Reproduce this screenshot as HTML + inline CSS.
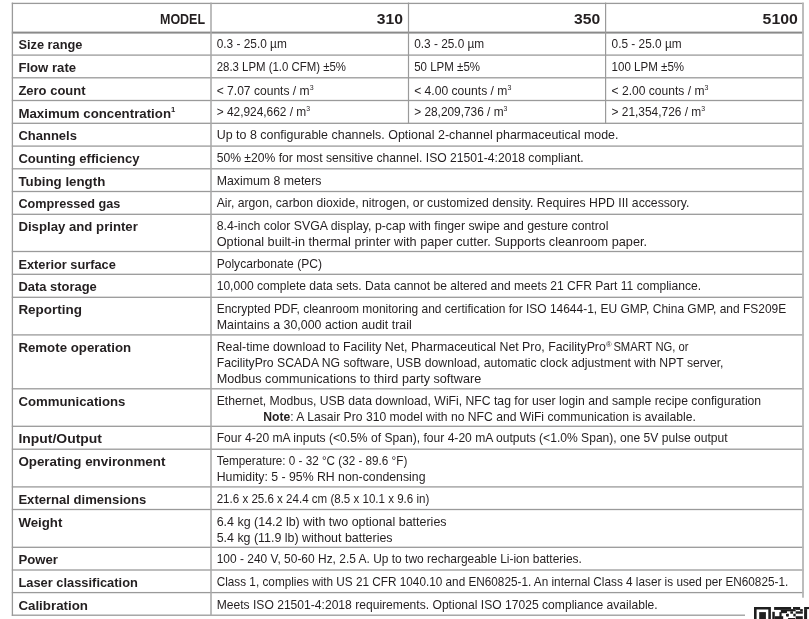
<!DOCTYPE html>
<html><head><meta charset="utf-8"><title>Lasair Pro specifications</title>
<style>
html,body{margin:0;padding:0;background:#fff;}
body{width:809px;height:619px;position:relative;overflow:hidden;}
svg{position:absolute;left:0;top:0;display:block;}
text{font-family:"Liberation Sans",Arial,sans-serif;fill:#231f20;white-space:pre;}
.h{font-weight:700;font-size:14.5px;}
.l{font-weight:700;font-size:13.5px;}
.v{font-weight:400;font-size:12.2px;}
.sup{font-size:58%;}
.reg{font-size:72%;}
.regt{font-size:7.6px;}
</style></head><body>
<svg width="809" height="619" viewBox="0 0 809 619">
<g>
<rect x="11.8" y="2.75" width="791.80" height="1.3" fill="#9a9a9a"/>
<rect x="11.8" y="31.60" width="791.80" height="2.0" fill="#8a8a8a"/>
<rect x="11.8" y="54.45" width="791.80" height="1.3" fill="#9a9a9a"/>
<rect x="11.8" y="77.15" width="791.80" height="1.3" fill="#9a9a9a"/>
<rect x="11.8" y="99.85" width="791.80" height="1.3" fill="#9a9a9a"/>
<rect x="11.8" y="122.65" width="791.80" height="1.3" fill="#9a9a9a"/>
<rect x="11.8" y="145.45" width="791.80" height="1.3" fill="#9a9a9a"/>
<rect x="11.8" y="168.15" width="791.80" height="1.3" fill="#9a9a9a"/>
<rect x="11.8" y="190.85" width="791.80" height="1.3" fill="#9a9a9a"/>
<rect x="11.8" y="213.65" width="791.80" height="1.3" fill="#9a9a9a"/>
<rect x="11.8" y="250.85" width="791.80" height="1.3" fill="#9a9a9a"/>
<rect x="11.8" y="273.65" width="791.80" height="1.3" fill="#9a9a9a"/>
<rect x="11.8" y="296.65" width="791.80" height="1.3" fill="#9a9a9a"/>
<rect x="11.8" y="334.25" width="791.80" height="1.3" fill="#9a9a9a"/>
<rect x="11.8" y="388.15" width="791.80" height="1.3" fill="#9a9a9a"/>
<rect x="11.8" y="425.65" width="791.80" height="1.3" fill="#9a9a9a"/>
<rect x="11.8" y="448.55" width="791.80" height="1.3" fill="#9a9a9a"/>
<rect x="11.8" y="486.25" width="791.80" height="1.3" fill="#9a9a9a"/>
<rect x="11.8" y="508.85" width="791.80" height="1.3" fill="#9a9a9a"/>
<rect x="11.8" y="546.65" width="791.80" height="1.3" fill="#9a9a9a"/>
<rect x="11.8" y="569.35" width="791.80" height="1.3" fill="#9a9a9a"/>
<rect x="11.8" y="591.95" width="791.80" height="1.3" fill="#9a9a9a"/>
<rect x="11.8" y="614.55" width="733.20" height="1.3" fill="#9a9a9a"/>
<rect x="11.75" y="2.6" width="1.3" height="613.40" fill="#9a9a9a"/>
<rect x="210.25" y="2.6" width="1.5" height="613.40" fill="#a8a8a8"/>
<rect x="407.90" y="2.6" width="1.2" height="121.10" fill="#9a9a9a"/>
<rect x="605.00" y="2.6" width="1.2" height="121.10" fill="#9a9a9a"/>
<rect x="802.10" y="2.6" width="1.8" height="595.10" fill="#b5b5b5"/>
</g>
<g fill="#1e1e1e">
<path fill-rule="evenodd" d="M754 607H770.9V619H754Z M756.6 609.6H768.3V619H756.6Z"/>
<rect x="759.2" y="612.1" width="6.7" height="7"/>
<rect x="774.1" y="607.0" width="12.90" height="2.90"/>
<rect x="780.8" y="609.9" width="6.20" height="3.30"/>
<rect x="772.3" y="611.8" width="2.50" height="7.20"/>
<rect x="779.4" y="612.1" width="2.20" height="6.90"/>
<rect x="774.8" y="616.2" width="8.40" height="2.80"/>
<rect x="786.0" y="614.0" width="2.70" height="2.40"/>
<rect x="787.0" y="607.0" width="4.10" height="2.10"/>
<rect x="793.0" y="607.0" width="7.10" height="2.10"/>
<rect x="787.0" y="609.1" width="8.70" height="2.20"/>
<rect x="800.1" y="609.1" width="2.70" height="2.20"/>
<rect x="795.7" y="609.1" width="4.40" height="0.90"/>
<rect x="790.3" y="611.3" width="2.70" height="2.40"/>
<rect x="795.7" y="611.3" width="7.10" height="2.40"/>
<rect x="787.0" y="613.7" width="1.60" height="2.70"/>
<rect x="793.3" y="613.7" width="2.40" height="2.70"/>
<rect x="788.1" y="618.0" width="7.10" height="1.00"/>
<rect x="795.7" y="616.2" width="7.10" height="2.80"/>
<rect x="804.1" y="607.0" width="4.90" height="2.10"/>
<rect x="804.1" y="609.1" width="3.00" height="9.90"/>
</g>
<text class="h" x="159.99" y="23.60" textLength="45.05" lengthAdjust="spacingAndGlyphs">MODEL</text>
<text class="h" x="376.69" y="23.80" textLength="26.21" lengthAdjust="spacingAndGlyphs">310</text>
<text class="h" x="574.05" y="23.80" textLength="26.17" lengthAdjust="spacingAndGlyphs">350</text>
<text class="h" x="762.57" y="23.60" textLength="35.29" lengthAdjust="spacingAndGlyphs">5100</text>
<text class="l" x="18.40" y="48.80" textLength="64.02" lengthAdjust="spacingAndGlyphs">Size range</text>
<text class="v" x="216.70" y="47.80" textLength="70.15" lengthAdjust="spacingAndGlyphs">0.3 - 25.0 µm</text>
<text class="v" x="414.20" y="47.80" textLength="70.03" lengthAdjust="spacingAndGlyphs">0.3 - 25.0 µm</text>
<text class="v" x="611.60" y="47.80" textLength="69.97" lengthAdjust="spacingAndGlyphs">0.5 - 25.0 µm</text>
<text class="l" x="18.40" y="71.80" textLength="57.69" lengthAdjust="spacingAndGlyphs">Flow rate</text>
<text class="v" x="216.70" y="70.80" textLength="129.33" lengthAdjust="spacingAndGlyphs">28.3 LPM (1.0 CFM) ±5%</text>
<text class="v" x="414.20" y="70.80" textLength="65.84" lengthAdjust="spacingAndGlyphs">50 LPM ±5%</text>
<text class="v" x="611.60" y="70.80" textLength="72.51" lengthAdjust="spacingAndGlyphs">100 LPM ±5%</text>
<text class="l" x="18.40" y="94.60" textLength="67.14" lengthAdjust="spacingAndGlyphs">Zero count</text>
<text class="v" x="216.70" y="94.60" textLength="96.84" lengthAdjust="spacingAndGlyphs">&lt; 7.07 counts / m<tspan class="sup" dy="-5.0">3</tspan></text>
<text class="v" x="414.20" y="94.60" textLength="97.13" lengthAdjust="spacingAndGlyphs">&lt; 4.00 counts / m<tspan class="sup" dy="-5.0">3</tspan></text>
<text class="v" x="611.60" y="94.60" textLength="96.79" lengthAdjust="spacingAndGlyphs">&lt; 2.00 counts / m<tspan class="sup" dy="-5.0">3</tspan></text>
<text class="l" x="18.40" y="117.80" textLength="156.89" lengthAdjust="spacingAndGlyphs">Maximum concentration<tspan class="sup" dy="-5.6">1</tspan></text>
<text class="v" x="216.70" y="116.20" textLength="93.43" lengthAdjust="spacingAndGlyphs">&gt; 42,924,662 / m<tspan class="sup" dy="-5.0">3</tspan></text>
<text class="v" x="414.20" y="116.20" textLength="93.22" lengthAdjust="spacingAndGlyphs">&gt; 28,209,736 / m<tspan class="sup" dy="-5.0">3</tspan></text>
<text class="v" x="611.60" y="116.20" textLength="93.43" lengthAdjust="spacingAndGlyphs">&gt; 21,354,726 / m<tspan class="sup" dy="-5.0">3</tspan></text>
<text class="l" x="18.40" y="139.60" textLength="58.50" lengthAdjust="spacingAndGlyphs">Channels</text>
<text class="v" x="216.70" y="138.60" textLength="401.81" lengthAdjust="spacingAndGlyphs">Up to 8 configurable channels. Optional 2-channel pharmaceutical mode.</text>
<text class="l" x="18.40" y="162.60" textLength="121.15" lengthAdjust="spacingAndGlyphs">Counting efficiency</text>
<text class="v" x="216.70" y="161.60" textLength="367.02" lengthAdjust="spacingAndGlyphs">50% ±20% for most sensitive channel. ISO 21501-4:2018 compliant.</text>
<text class="l" x="18.40" y="185.80" textLength="86.91" lengthAdjust="spacingAndGlyphs">Tubing length</text>
<text class="v" x="216.70" y="184.80" textLength="104.80" lengthAdjust="spacingAndGlyphs">Maximum 8 meters</text>
<text class="l" x="18.40" y="207.80" textLength="102.00" lengthAdjust="spacingAndGlyphs">Compressed gas</text>
<text class="v" x="216.70" y="206.80" textLength="472.63" lengthAdjust="spacingAndGlyphs">Air, argon, carbon dioxide, nitrogen, or customized density. Requires HPD III accessory.</text>
<text class="l" x="18.40" y="230.80" textLength="119.45" lengthAdjust="spacingAndGlyphs">Display and printer</text>
<text class="v" x="216.70" y="229.80" textLength="391.75" lengthAdjust="spacingAndGlyphs">8.4-inch color SVGA display, p-cap with finger swipe and gesture control</text>
<text class="v" x="216.70" y="245.80" textLength="430.35" lengthAdjust="spacingAndGlyphs">Optional built-in thermal printer with paper cutter. Supports cleanroom paper.</text>
<text class="l" x="18.40" y="268.80" textLength="97.48" lengthAdjust="spacingAndGlyphs">Exterior surface</text>
<text class="v" x="216.70" y="267.80" textLength="105.28" lengthAdjust="spacingAndGlyphs">Polycarbonate (PC)</text>
<text class="l" x="18.40" y="290.80" textLength="78.43" lengthAdjust="spacingAndGlyphs">Data storage</text>
<text class="v" x="216.70" y="289.80" textLength="484.39" lengthAdjust="spacingAndGlyphs">10,000 complete data sets. Data cannot be altered and meets 21 CFR Part 11 compliance.</text>
<text class="l" x="18.40" y="314.00" textLength="63.54" lengthAdjust="spacingAndGlyphs">Reporting</text>
<text class="v" x="216.70" y="313.00" textLength="569.56" lengthAdjust="spacingAndGlyphs">Encrypted PDF, cleanroom monitoring and certification for ISO 14644-1, EU GMP, China GMP, and FS209E</text>
<text class="v" x="216.70" y="329.00" textLength="195.01" lengthAdjust="spacingAndGlyphs">Maintains a 30,000 action audit trail</text>
<text class="l" x="18.40" y="351.80" textLength="112.69" lengthAdjust="spacingAndGlyphs">Remote operation</text>
<text class="v" x="216.70" y="350.80" textLength="389.17" lengthAdjust="spacingAndGlyphs">Real-time download to Facility Net, Pharmaceutical Net Pro, FacilityPro</text>
<text class="v regt" x="605.90" y="347.40">®</text>
<text class="v" x="613.39" y="350.80" textLength="75.09" lengthAdjust="spacingAndGlyphs">SMART NG, or</text>
<text class="v" x="216.70" y="366.80" textLength="506.82" lengthAdjust="spacingAndGlyphs">FacilityPro SCADA NG software, USB download, automatic clock adjustment with NPT server,</text>
<text class="v" x="216.70" y="382.80" textLength="264.49" lengthAdjust="spacingAndGlyphs">Modbus communications to third party software</text>
<text class="l" x="18.40" y="405.80" textLength="107.08" lengthAdjust="spacingAndGlyphs">Communications</text>
<text class="v" x="216.70" y="404.80" textLength="544.48" lengthAdjust="spacingAndGlyphs">Ethernet, Modbus, USB data download, WiFi, NFC tag for user login and sample recipe configuration</text>
<text class="v" x="263.30" y="420.80" textLength="432.61" lengthAdjust="spacingAndGlyphs"><tspan font-weight="700">Note</tspan>: A Lasair Pro 310 model with no NFC and WiFi communication is available.</text>
<text class="l" x="18.40" y="442.80" textLength="83.59" lengthAdjust="spacingAndGlyphs">Input/Output</text>
<text class="v" x="216.70" y="441.80" textLength="511.01" lengthAdjust="spacingAndGlyphs">Four 4-20 mA inputs (&lt;0.5% of Span), four 4-20 mA outputs (&lt;1.0% Span), one 5V pulse output</text>
<text class="l" x="18.40" y="465.80" textLength="146.95" lengthAdjust="spacingAndGlyphs">Operating environment</text>
<text class="v" x="216.70" y="464.80" textLength="190.62" lengthAdjust="spacingAndGlyphs">Temperature: 0 - 32 °C (32 - 89.6 °F)</text>
<text class="v" x="216.70" y="480.80" textLength="208.78" lengthAdjust="spacingAndGlyphs">Humidity: 5 - 95% RH non-condensing</text>
<text class="l" x="18.40" y="503.80" textLength="127.87" lengthAdjust="spacingAndGlyphs">External dimensions</text>
<text class="v" x="216.70" y="502.80" textLength="212.62" lengthAdjust="spacingAndGlyphs">21.6 x 25.6 x 24.4 cm (8.5 x 10.1 x 9.6 in)</text>
<text class="l" x="18.40" y="526.60" textLength="43.93" lengthAdjust="spacingAndGlyphs">Weight</text>
<text class="v" x="216.70" y="525.60" textLength="229.86" lengthAdjust="spacingAndGlyphs">6.4 kg (14.2 lb) with two optional batteries</text>
<text class="v" x="216.70" y="541.60" textLength="175.84" lengthAdjust="spacingAndGlyphs">5.4 kg (11.9 lb) without batteries</text>
<text class="l" x="18.40" y="563.80" textLength="39.58" lengthAdjust="spacingAndGlyphs">Power</text>
<text class="v" x="216.70" y="562.80" textLength="365.24" lengthAdjust="spacingAndGlyphs">100 - 240 V, 50-60 Hz, 2.5 A. Up to two rechargeable Li-ion batteries.</text>
<text class="l" x="18.40" y="586.60" textLength="119.47" lengthAdjust="spacingAndGlyphs">Laser classification</text>
<text class="v" x="216.70" y="585.60" textLength="571.55" lengthAdjust="spacingAndGlyphs">Class 1, complies with US 21 CFR 1040.10 and EN60825-1. An internal Class 4 laser is used per EN60825-1.</text>
<text class="l" x="18.40" y="609.60" textLength="69.56" lengthAdjust="spacingAndGlyphs">Calibration</text>
<text class="v" x="216.70" y="608.60" textLength="441.00" lengthAdjust="spacingAndGlyphs">Meets ISO 21501-4:2018 requirements. Optional ISO 17025 compliance available.</text>
</svg>
</body></html>
